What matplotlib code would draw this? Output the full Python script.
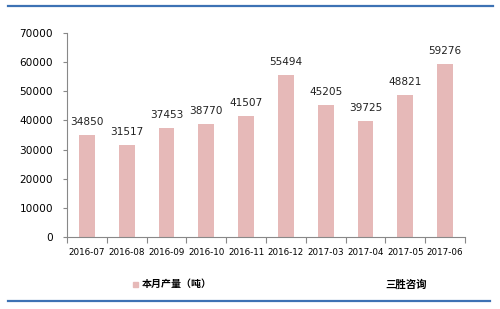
import matplotlib.pyplot as plt
from matplotlib.lines import Line2D
from matplotlib.patches import Rectangle

months = ['2016-07', '2016-08', '2016-09', '2016-10', '2016-11', '2016-12',
          '2017-03', '2017-04', '2017-05', '2017-06']
output = [34850, 31517, 37453, 38770, 41507, 55494, 45205, 39725, 48821, 59276]
y_ticks = [0, 10000, 20000, 30000, 40000, 50000, 60000, 70000]

plt.rcParams['font.family'] = ['Noto Sans CJK SC', 'DejaVu Sans']

fig = plt.figure(figsize=(5, 3.09), dpi=100)
ax = fig.add_axes([0.134, 0.233, 0.796, 0.66])

x = range(len(months))
ax.bar(x, output, width=0.4, color='#e6b9b8', zorder=2)
for i, v in zip(x, output):
    ax.text(i, v + 2800, str(v), ha='center', va='bottom', fontsize=7.6,
            family='DejaVu Sans', color='#222222')

ax.set_xlim(-0.5, len(months) - 0.5)
ax.set_ylim(0, 70000)
ax.set_yticks(y_ticks)
ax.set_yticklabels([str(t) for t in y_ticks], family='DejaVu Sans', fontsize=7.6)
ax.set_xticks([i + 0.5 for i in range(-1, len(months))], minor=False)
ax.set_xticklabels([])
ax.set_xticks(list(x), minor=True)
ax.set_xticklabels(months, minor=True, family='DejaVu Sans', fontsize=6.3)
ax.tick_params(axis='x', which='major', length=4, color='#888888')
ax.tick_params(axis='x', which='minor', length=0, pad=8)
ax.tick_params(axis='y', length=3, color='#888888', pad=7)

for s in ['top', 'right']:
    ax.spines[s].set_visible(False)
for s in ['left', 'bottom']:
    ax.spines[s].set_color('#888888')
    ax.spines[s].set_linewidth(0.8)

# frame lines
fig.add_artist(Line2D([0.016, 0.986], [0.981, 0.981], color='#3d72b4', lw=1.6))
fig.add_artist(Line2D([0.016, 0.98], [0.025, 0.025], color='#3d72b4', lw=1.6))

# legend
fig.add_artist(Rectangle((0.266, 0.072), 0.01, 0.016, color='#e6b9b8'))
fig.text(0.283, 0.08, '本月产量（吨）', fontsize=7.2, fontweight='bold', va='center')
fig.text(0.77, 0.078, '三胜咨询', fontsize=7.5, fontweight='bold', va='center')

plt.savefig('out.png', dpi=100)
